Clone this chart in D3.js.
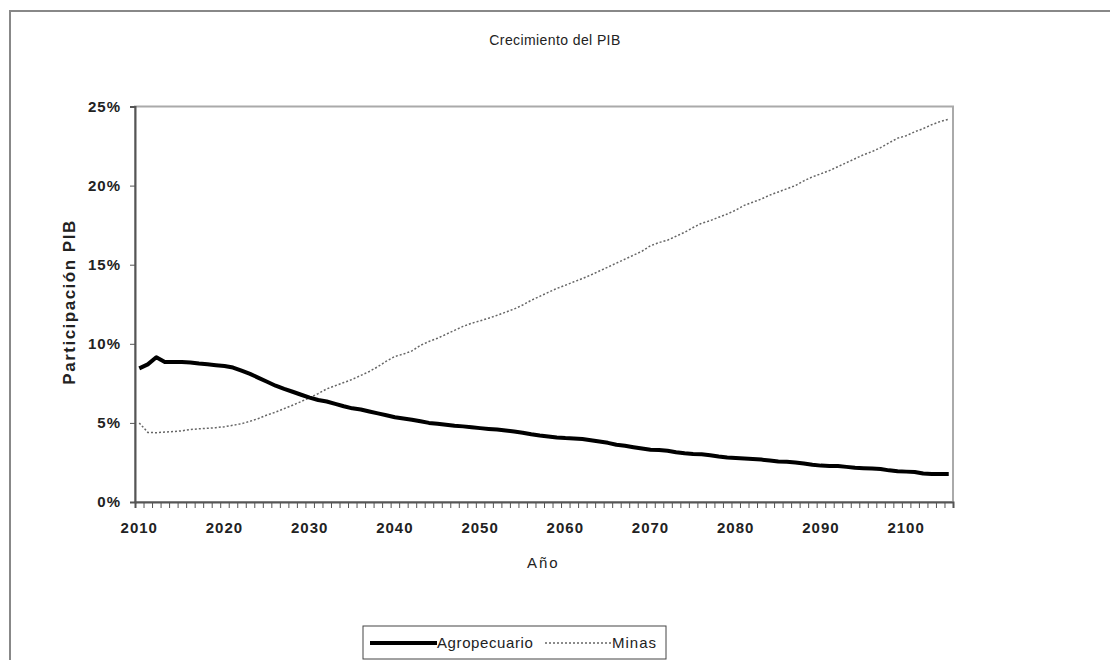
<!DOCTYPE html>
<html>
<head>
<meta charset="utf-8">
<script src="https://cdn.jsdelivr.net/npm/d3@7"></script>
<style>
  body { margin: 0; background: #fff; }
  text { font-family: "Liberation Sans", Arial, sans-serif; fill: #222; }
</style>
</head>
<body>
<svg id="chart" width="1110" height="660"></svg>
<script>
// years 2010..2105
const startYear = 2010;
const agropecuario = [
  8.45, 8.7, 9.15, 8.85, 8.85, 8.85, 8.82, 8.75, 8.7, 8.65,
  8.6, 8.5, 8.3, 8.1, 7.85, 7.6, 7.35, 7.15, 6.97, 6.78,
  6.6, 6.45, 6.35, 6.2, 6.05, 5.92, 5.85, 5.72, 5.6, 5.48,
  5.36, 5.28, 5.2, 5.1, 5.0, 4.95, 4.88, 4.82, 4.78, 4.72,
  4.67, 4.62, 4.58, 4.52, 4.45, 4.38, 4.28, 4.2, 4.14, 4.08,
  4.04, 4.02, 3.98, 3.9, 3.82, 3.74, 3.62, 3.55, 3.46, 3.38,
  3.3, 3.28, 3.24, 3.15, 3.08, 3.04, 3.02, 2.96, 2.88, 2.82,
  2.78, 2.75, 2.72, 2.68, 2.62, 2.56, 2.54, 2.5, 2.44, 2.36,
  2.3, 2.28, 2.27, 2.22, 2.16, 2.14, 2.12, 2.08, 2.0, 1.94,
  1.92, 1.9, 1.8, 1.77, 1.77, 1.77
];
const minas = [
  5.0, 4.4, 4.38, 4.42, 4.45, 4.5, 4.58, 4.63, 4.66, 4.7,
  4.76, 4.85, 4.95, 5.1, 5.28, 5.5, 5.68, 5.9, 6.12, 6.35,
  6.6, 6.85, 7.15, 7.35, 7.55, 7.75, 8.0, 8.25, 8.55, 8.9,
  9.2, 9.35, 9.55, 9.9, 10.15, 10.35, 10.6, 10.85, 11.1, 11.3,
  11.45, 11.62, 11.8, 12.0, 12.2, 12.45, 12.75, 13.0, 13.25, 13.5,
  13.7, 13.92, 14.12, 14.35, 14.6, 14.85, 15.1, 15.35, 15.6, 15.85,
  16.2, 16.4, 16.55, 16.8, 17.05, 17.35, 17.62, 17.78, 18.0, 18.2,
  18.45, 18.75, 18.95, 19.15, 19.4, 19.6, 19.8, 20.0, 20.3, 20.55,
  20.75, 20.95, 21.2, 21.45, 21.7, 21.95, 22.15, 22.4, 22.7, 23.0,
  23.15, 23.4, 23.6, 23.85, 24.05, 24.2
];
const yTicks = [0, 5, 10, 15, 20, 25];
const xLabelYears = [2010, 2020, 2030, 2040, 2050, 2060, 2070, 2080, 2090, 2100];

const years = agropecuario.map((d, i) => startYear + i);
const margin = { top: 106.5, right: 157, bottom: 158, left: 135 },
  width = 1110 - margin.left - margin.right,
  height = 660 - margin.top - margin.bottom;

const svg = d3.select("#chart");

// outer chart frame (only top and left visible)
svg.append("path")
  .attr("d", "M10,700 V11 H1120")
  .attr("fill", "none")
  .attr("stroke", "#888")
  .attr("stroke-width", 2);

svg.append("text")
  .attr("x", 555).attr("y", 45)
  .attr("text-anchor", "middle")
  .style("font-size", "14px")
  .style("letter-spacing", "0.4px")
  .text("Crecimiento del PIB");

const g = svg.append("g")
  .attr("transform", "translate(" + margin.left + "," + margin.top + ")");

const x = d3.scaleLinear().domain([startYear - 0.5, years[years.length - 1] + 0.5]).range([0, width]);
const y = d3.scaleLinear().domain([0, 25]).range([height, 0]);

// plot area border
g.append("rect")
  .attr("width", width).attr("height", height)
  .attr("fill", "none")
  .attr("stroke", "#aaa")
  .attr("stroke-width", 2);

// y axis
const yAxis = g.append("g")
  .call(d3.axisLeft(y).tickValues(yTicks).tickSize(5).tickFormat(d => d + "%"));
yAxis.select(".domain").attr("stroke", "#555").attr("stroke-width", 2);
yAxis.selectAll(".tick line").attr("stroke", "#555");
yAxis.selectAll(".tick text")
  .attr("x", -14)
  .style("font-size", "15px")
  .style("font-weight", "bold")
  .style("letter-spacing", "1px")
  .attr("fill", "#222");

// x axis: ticks on category boundaries, labels centred on categories
const boundaries = d3.range(startYear - 0.5, years[years.length - 1] + 1, 1);
const xAxis = g.append("g")
  .attr("transform", "translate(0," + height + ")")
  .call(d3.axisBottom(x).tickValues(boundaries).tickSize(6).tickFormat(""));
xAxis.select(".domain").attr("stroke", "#555").attr("stroke-width", 2);
xAxis.selectAll(".tick line").attr("stroke", "#555");

g.append("g")
  .selectAll("text")
  .data(xLabelYears)
  .join("text")
  .attr("x", d => x(d))
  .attr("y", height + 31)
  .attr("text-anchor", "middle")
  .style("font-size", "15px")
  .style("font-weight", "bold")
  .style("letter-spacing", "1px")
  .text(d => d);

// axis titles
g.append("text")
  .attr("x", 527 - margin.left).attr("y", 568 - margin.top)
  .style("font-size", "15px")
  .style("letter-spacing", "2px")
  .text("Año");

svg.append("text")
  .attr("transform", "translate(75,302) rotate(-90)")
  .attr("text-anchor", "middle")
  .style("font-size", "17px")
  .style("font-weight", "bold")
  .style("letter-spacing", "1.5px")
  .text("Participación PIB");

const line = d3.line()
  .x((d, i) => x(years[i]))
  .y(d => y(d));

g.append("path")
  .datum(minas)
  .attr("fill", "none")
  .attr("stroke", "#666")
  .attr("stroke-width", 1.5)
  .attr("stroke-dasharray", "2,2")
  .attr("d", line);

g.append("path")
  .datum(agropecuario)
  .attr("fill", "none")
  .attr("stroke", "#000")
  .attr("stroke-width", 4)
  .attr("stroke-linejoin", "round")
  .attr("d", line);

// legend
const legend = svg.append("g").attr("transform", "translate(363,626)");
legend.append("rect")
  .attr("width", 303).attr("height", 33)
  .attr("fill", "#fff")
  .attr("stroke", "#444");
legend.append("line")
  .attr("x1", 7).attr("x2", 74).attr("y1", 17).attr("y2", 17)
  .attr("stroke", "#000").attr("stroke-width", 4);
legend.append("text")
  .attr("x", 74).attr("y", 22)
  .style("font-size", "15px")
  .style("letter-spacing", "0.6px")
  .text("Agropecuario");
legend.append("line")
  .attr("x1", 182).attr("x2", 249).attr("y1", 17).attr("y2", 17)
  .attr("stroke", "#666").attr("stroke-width", 1.5)
  .attr("stroke-dasharray", "2,2");
legend.append("text")
  .attr("x", 249).attr("y", 22)
  .style("font-size", "15px")
  .style("letter-spacing", "1px")
  .text("Minas");
</script>
</body>
</html>
